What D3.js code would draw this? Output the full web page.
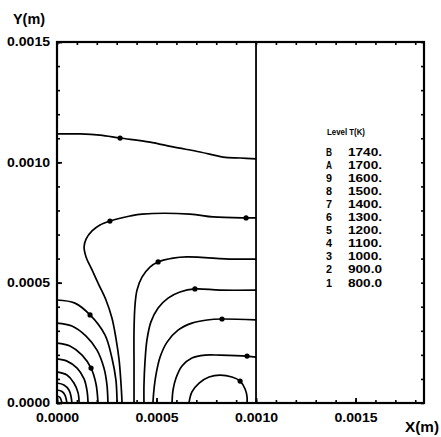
<!DOCTYPE html>
<html>
<head>
<meta charset="utf-8">
<script src="https://cdn.jsdelivr.net/npm/d3@7"></script>
<style>
  html, body { margin: 0; padding: 0; background: #fff; }
  svg { display: block; }
  text { font-family: "Liberation Sans", Arial, sans-serif; font-weight: bold; fill: #000; }
</style>
</head>
<body>
<svg id="chart" width="441" height="437"></svg>
<script>
// Isotherm chart: temperature contours in a 1.0 mm x 1.5 mm cell.
// Contour coordinates are given in millimetres as [x, y].

// Legend: contour level keys and temperatures (K)
const levelKeys = ["B", "A", "9", "8", "7", "6", "5", "4", "3", "2", "1"];
const levelTemps = ["1740.", "1700.", "1600.", "1500.", "1400.", "1300.", "1200.", "1100.", "1000.", "900.0", "800.0"];

// Axis tick labels (m)
const xTickLabels = [0, 0.0005, 0.0010, 0.0015];
const yTickLabels = [0, 0.0005, 0.0010, 0.0015];

// Upper isotherm spanning the whole cell
const isoTop = [[0, 1.118], [0.116, 1.118], [0.216, 1.113], [0.317, 1.101], [0.467, 1.084],
  [0.583, 1.064], [0.719, 1.043], [0.834, 1.022], [0.920, 1.018], [1.0, 1.014]];
// Hooked isotherm entering from the right wall
const isoHook = [[1.0, 0.769], [0.950, 0.769], [0.784, 0.773], [0.668, 0.785], [0.427, 0.785],
  [0.367, 0.777], [0.266, 0.756], [0.216, 0.740], [0.176, 0.715], [0.146, 0.681], [0.136, 0.648],
  [0.146, 0.607], [0.176, 0.553], [0.211, 0.490], [0.246, 0.428], [0.276, 0.353], [0.296, 0.270],
  [0.312, 0.179], [0.322, 0.075], [0.327, 0]];
const isoR3 = [[1.0, 0.598], [0.884, 0.598], [0.653, 0.607], [0.583, 0.602], [0.508, 0.586],
  [0.467, 0.565], [0.427, 0.523], [0.402, 0.469], [0.392, 0.407], [0.387, 0.303], [0.387, 0.158], [0.387, 0]];
const isoR4 = [[1.0, 0.469], [0.819, 0.469], [0.693, 0.474], [0.618, 0.461], [0.558, 0.436],
  [0.508, 0.395], [0.472, 0.337], [0.452, 0.262], [0.442, 0.170], [0.437, 0.075], [0.437, 0]];
const isoR5 = [[1.0, 0.345], [0.829, 0.349], [0.754, 0.345], [0.678, 0.332], [0.608, 0.303],
  [0.553, 0.253], [0.518, 0.191], [0.497, 0.116], [0.487, 0.054], [0.482, 0]];
const isoR6 = [[1.0, 0.191], [0.955, 0.195], [0.819, 0.199], [0.744, 0.199], [0.678, 0.187],
  [0.628, 0.154], [0.598, 0.104], [0.583, 0.054], [0.578, 0]];
// Closed loop on the lower wall
const isoLoop = [[0.663, 0], [0.678, 0.046], [0.714, 0.083], [0.764, 0.108], [0.819, 0.116],
  [0.879, 0.108], [0.920, 0.091], [0.945, 0.058], [0.955, 0.025], [0.955, 0]];
// Nested arcs around the origin
const isoArc1 = [[0, 0.428], [0.090, 0.415], [0.166, 0.366], [0.241, 0.283], [0.276, 0.187], [0.296, 0.096], [0.302, 0]];
const isoArc2 = [[0, 0.332], [0.075, 0.320], [0.146, 0.278], [0.201, 0.220], [0.236, 0.145], [0.251, 0.075], [0.256, 0]];
const isoArc3 = [[0, 0.249], [0.065, 0.237], [0.126, 0.199], [0.171, 0.145], [0.196, 0.079], [0.206, 0]];
const isoArc4 = [[0, 0.183], [0.050, 0.174], [0.101, 0.145], [0.136, 0.100], [0.151, 0.050], [0.156, 0]];
const isoArc5 = [[0, 0.129], [0.050, 0.116], [0.085, 0.083], [0.106, 0.042], [0.111, 0]];
const isoArc6 = [[0, 0.083], [0.035, 0.075], [0.060, 0.054], [0.070, 0.029], [0.075, 0]];
const isoArc7 = [[0, 0.054], [0.025, 0.048], [0.040, 0.033], [0.050, 0]];
const isoArc8 = [[0, 0.029], [0.015, 0.023], [0.025, 0]];

// Level-label positions on the isotherms
const labelMarks = [[0.317, 1.101], [0.950, 0.769], [0.266, 0.756], [0.508, 0.586],
  [0.693, 0.474], [0.829, 0.349], [0.955, 0.195], [0.920, 0.091], [0.166, 0.366], [0.171, 0.145]];

const isotherms = [isoTop, isoHook, isoR3, isoR4, isoR5, isoR6, isoLoop,
  isoArc1, isoArc2, isoArc3, isoArc4, isoArc5, isoArc6, isoArc7, isoArc8];

const mm = 1e-3;
const svg = d3.select("#chart");
const x = d3.scaleLinear().domain([0, 0.001844]).range([57, 424]);
const y = d3.scaleLinear().domain([0, 0.0015]).range([403, 42]);

const minorX = d3.range(0, 0.00185, 0.0001);
const minorY = d3.range(0, 0.00151, 0.0001);

// minor ticks on all four sides, pointing inward
function minorAxis(axisFn, scale, vals, tx, ty) {
  const g = svg.append("g").attr("transform", `translate(${tx},${ty})`)
    .call(axisFn(scale).tickValues(vals).tickSize(-3).tickFormat(""));
  g.select(".domain").remove();
  g.selectAll(".tick line").attr("stroke", "#000").attr("stroke-width", 1.6);
  return g;
}
minorAxis(d3.axisBottom, x, minorX, 0, 403);
minorAxis(d3.axisTop, x, minorX, 0, 42);
minorAxis(d3.axisLeft, y, minorY, 57, 0);
minorAxis(d3.axisRight, y, minorY, 424, 0);

// labelled major ticks
const fmt = d3.format(".4f");
const gx = svg.append("g").attr("transform", "translate(0,403)")
  .call(d3.axisBottom(x).tickValues(xTickLabels).tickSize(-5).tickPadding(10).tickFormat(fmt));
gx.select(".domain").remove();
gx.selectAll(".tick line").attr("stroke", "#000").attr("stroke-width", 1.8);
gx.selectAll(".tick text").attr("font-size", 12).attr("font-family", "Liberation Sans, Arial, sans-serif")
  .attr("font-weight", "bold").attr("fill", "#000")
  .attr("textLength", 43).attr("lengthAdjust", "spacingAndGlyphs");

const gy = svg.append("g").attr("transform", "translate(57,0)")
  .call(d3.axisLeft(y).tickValues(yTickLabels).tickSize(-5).tickPadding(7).tickFormat(fmt));
gy.select(".domain").remove();
gy.selectAll(".tick line").attr("stroke", "#000").attr("stroke-width", 1.8);
gy.selectAll(".tick text").attr("font-size", 12).attr("font-family", "Liberation Sans, Arial, sans-serif")
  .attr("font-weight", "bold").attr("fill", "#000")
  .attr("textLength", 43).attr("lengthAdjust", "spacingAndGlyphs");

// frame and the cell wall at x = 0.001 m
svg.append("rect").attr("x", x(0)).attr("y", y(0.0015))
  .attr("width", x(0.001844) - x(0)).attr("height", y(0) - y(0.0015))
  .attr("fill", "none").attr("stroke", "#000").attr("stroke-width", 2.2);
svg.append("line").attr("x1", x(0.001)).attr("x2", x(0.001))
  .attr("y1", y(0.0015)).attr("y2", y(0))
  .attr("stroke", "#000").attr("stroke-width", 1.8);

// isotherms
const line = d3.line().x(d => x(d[0] * mm)).y(d => y(d[1] * mm)).curve(d3.curveCatmullRom.alpha(0.5));
svg.append("g").selectAll("path").data(isotherms).join("path")
  .attr("d", line).attr("fill", "none").attr("stroke", "#000")
  .attr("stroke-width", 1.7).attr("stroke-linejoin", "round");

svg.append("g").selectAll("circle").data(labelMarks).join("circle")
  .attr("cx", d => x(d[0] * mm)).attr("cy", d => y(d[1] * mm)).attr("r", 2.6).attr("fill", "#000");

// axis titles
svg.append("text").attr("x", 13).attr("y", 24).attr("font-size", 14)
  .attr("textLength", 32).attr("lengthAdjust", "spacingAndGlyphs").text("Y(m)");
svg.append("text").attr("x", 405).attr("y", 432).attr("font-size", 15)
  .attr("textLength", 34).attr("lengthAdjust", "spacingAndGlyphs").text("X(m)");

// legend
svg.append("text").attr("x", 327).attr("y", 135).attr("font-size", 9)
  .attr("textLength", 38).attr("lengthAdjust", "spacingAndGlyphs").text("Level T(K)");
const rowY = d3.scalePoint().domain(levelKeys).range([155.5, 286.5]);
const rows = svg.append("g").selectAll("g").data(levelKeys).join("g")
  .attr("transform", d => `translate(0,${rowY(d)})`);
rows.append("text").attr("x", 326).attr("font-size", 10)
  .attr("textLength", 6).attr("lengthAdjust", "spacingAndGlyphs").text(d => d);
rows.append("text").attr("x", 348).attr("font-size", 10)
  .attr("textLength", 34).attr("lengthAdjust", "spacingAndGlyphs")
  .text((d, i) => levelTemps[i]);
</script>
</body>
</html>
